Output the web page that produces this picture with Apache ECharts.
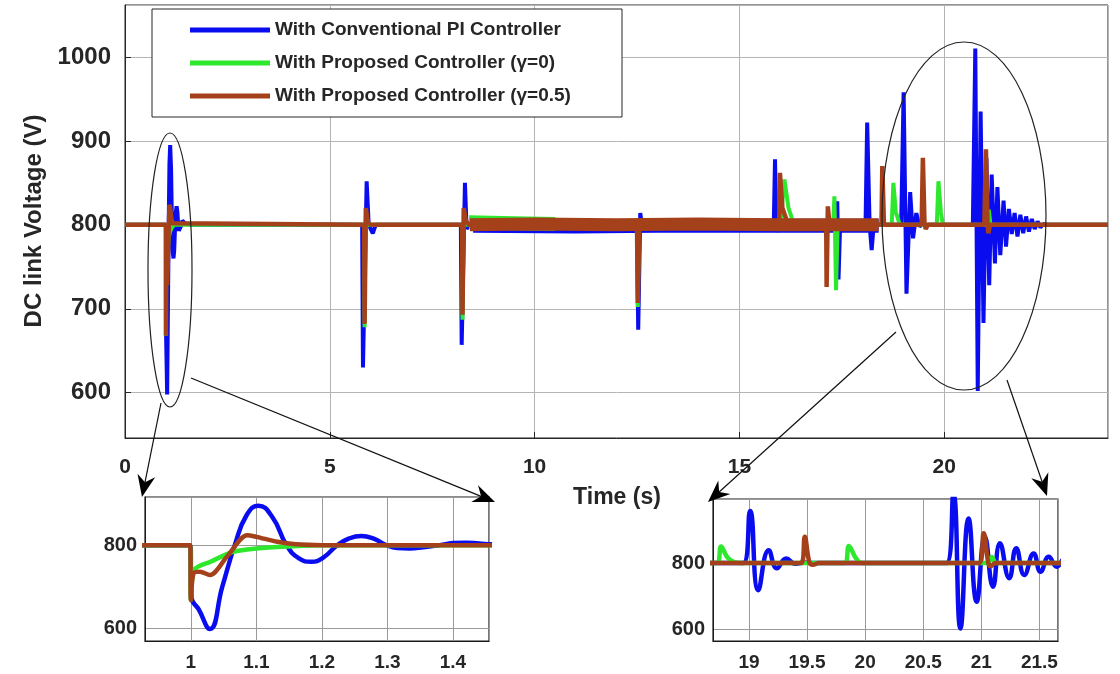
<!DOCTYPE html>
<html>
<head>
<meta charset="utf-8">
<script src="https://cdn.jsdelivr.net/npm/echarts@6/dist/echarts.min.js"></script>
<style>
html, body { margin: 0; padding: 0; background: #fff; }
#chart { width: 1120px; height: 674px; }
</style>
</head>
<body>
<div id="chart"></div>
<script>
// legend names
var seriesNames = ['With Conventional PI Controller', 'With Proposed Controller (\u03b3=0)', 'With Proposed Controller (\u03b3=0.5)'];
var colors = ['#0a0cf0', '#2ee82e', '#a4411b'];

// [time (s), DC link voltage (V)]
var piData = [
  [0, 800], [0.999, 800], [1.001, 674], [1.012, 645], [1.029, 598], [1.048, 700], [1.067, 800], [1.085, 872], [1.103, 895],
  [1.125, 866], [1.146, 800], [1.165, 768], [1.184, 760], [1.202, 770], [1.222, 798], [1.24, 815], [1.26, 822], [1.28, 815],
  [1.297, 801], [1.315, 793], [1.334, 792], [1.355, 795], [1.38, 800], [1.40, 805], [1.42, 806], [1.44, 804], [1.46, 802], [1.6, 800],
  [5.79, 800], [5.81, 630], [5.9, 852], [5.95, 800], [6.05, 790], [6.12, 800],
  [8.2, 800], [8.22, 657], [8.3, 850], [8.34, 795], [8.4, 800],
  [12.5, 800], [12.53, 675], [12.58, 814], [12.62, 800],
  [15.84, 800], [15.87, 878], [15.9, 800], [15.95, 792], [16.0, 800],
  [17.36, 800], [17.39, 828], [17.42, 735], [17.46, 800],
  [18.08, 800], [18.12, 922], [18.18, 800], [18.23, 770], [18.28, 800],
  [18.95, 800], [19.01, 958], [19.08, 718], [19.17, 839], [19.24, 784], [19.32, 814], [19.40, 798], [19.48, 802], [19.55, 800],
  [20.70, 800], [20.76, 1010], [20.82, 602], [20.89, 935], [20.96, 683], [21.03, 880], [21.10, 728], [21.16, 860],
  [21.24, 754], [21.30, 845], [21.37, 764], [21.45, 829], [21.51, 774], [21.58, 819], [21.65, 789], [21.72, 814],
  [21.79, 786], [21.86, 812], [21.93, 790], [22.0, 810], [22.07, 792], [22.14, 807], [22.21, 795], [22.28, 804],
  [22.35, 797], [22.42, 801], [22.5, 800], [24, 800]
];
var gamma0Data = [
  [0, 800], [0.999, 800], [1.0, 668], [1.005, 740], [1.03, 760], [1.065, 784], [1.1, 792], [1.15, 797], [1.2, 800],
  [5.84, 800], [5.85, 678], [5.87, 790], [5.9, 800],
  [8.23, 800], [8.24, 687], [8.26, 800],
  [12.5, 800], [12.52, 702], [12.55, 800],
  [16.0, 800], [16.1, 854], [16.2, 820], [16.3, 805], [16.4, 800],
  [17.29, 800], [17.32, 834], [17.36, 722], [17.4, 800],
  [18.72, 800], [18.76, 850], [18.82, 815], [18.92, 800],
  [19.82, 800], [19.86, 852], [19.92, 815], [19.97, 800],
  [21.05, 800], [21.09, 818], [21.13, 800], [24, 800]
];
var gamma05Data = [
  [0, 800], [0.999, 800], [1.0, 668], [1.004, 732], [1.014, 736], [1.029, 728], [1.055, 772], [1.086, 824], [1.1, 820],
  [1.132, 808], [1.16, 802], [1.2, 800],
  [5.84, 800], [5.85, 682], [5.88, 820], [5.93, 803], [6.0, 800],
  [8.23, 800], [8.24, 693], [8.27, 820], [8.32, 805], [8.4, 800],
  [12.5, 800], [12.52, 707], [12.56, 805], [12.6, 800],
  [15.97, 800], [15.99, 862], [16.05, 820], [16.15, 806], [16.3, 800],
  [17.12, 800], [17.13, 726], [17.16, 822], [17.2, 800],
  [18.47, 800], [18.49, 870], [18.53, 800],
  [19.45, 800], [19.48, 880], [19.52, 802], [19.55, 795], [19.6, 800],
  [20.98, 800], [21.02, 890], [21.06, 800], [21.08, 790], [21.12, 800], [24, 800]
];
// centre lines of the noisy stretch between the load steps
var piBand = [[8.5, 799], [11, 798], [13, 799], [18.4, 799]];
var gamma0Band = [[8.4, 803], [9.5, 802], [10.5, 801]];
var gamma05Band = [[8.42, 800], [10, 801], [12, 800], [14, 801], [16, 800], [18.4, 800]];

var FONT = 'Liberation Sans, Arial, sans-serif';
var TXT = '#262626';

function plain(v) { return String(v); }

function arrow(x1, y1, x2, y2) {
  var dx = x2 - x1, dy = y2 - y1, L = Math.sqrt(dx * dx + dy * dy);
  var ux = dx / L, uy = dy / L, px = -uy, py = ux;
  var len = 22, w = 9, notch = 15;
  var bx = x2 - ux * len, by = y2 - uy * len;
  return [
    { type: 'line', z: 100, shape: { x1: x1, y1: y1, x2: x2 - ux * notch, y2: y2 - uy * notch }, style: { stroke: '#111', lineWidth: 1.2 } },
    { type: 'polygon', z: 100, shape: { points: [[x2, y2], [bx + px * w, by + py * w], [x2 - ux * notch, y2 - uy * notch], [bx - px * w, by - py * w]] }, style: { fill: '#000' } }
  ];
}

function mainLine(name, data, color, width, z) {
  return { name: name, type: 'line', data: data, xAxisIndex: 0, yAxisIndex: 0, symbol: 'none', z: z,
    lineStyle: { color: color, width: width }, itemStyle: { color: color } };
}
function insetLine(name, data, color, idx, z, smooth) {
  return { name: name, type: 'line', data: data, xAxisIndex: idx, yAxisIndex: idx, symbol: 'none', z: z,
    smooth: smooth,
    lineStyle: { color: color, width: 4.5 }, itemStyle: { color: color } };
}

var chart = echarts.init(document.getElementById('chart'));
var option = {
  animation: false,
  backgroundColor: '#fff',
  textStyle: { fontFamily: FONT },
  legend: {
    data: seriesNames,
    orient: 'vertical',
    left: 190, top: 20, padding: 0,
    itemWidth: 80, itemHeight: 5, itemGap: 13,
    icon: 'rect', z: 8,
    textStyle: { fontSize: 19, fontWeight: 'bold', color: TXT, fontFamily: FONT, lineHeight: 20 }
  },
  grid: [
    { left: 125, top: 5, right: 12, bottom: 236, show: true, borderColor: '#262626', borderWidth: 1, backgroundColor: '#fff' },
    { left: 145, top: 497, width: 344, height: 144, show: true, borderColor: '#1a1a1a', borderWidth: 1.2, backgroundColor: '#fff' },
    { left: 713, top: 499, width: 345, height: 142, show: true, borderColor: '#1a1a1a', borderWidth: 1.2, backgroundColor: '#fff' }
  ],
  xAxis: [
    { type: 'value', gridIndex: 0, min: 0, max: 24, interval: 5,
      axisLine: { onZero: false, lineStyle: { color: '#262626' } },
      axisTick: { inside: true, length: 6, lineStyle: { color: '#262626' } },
      axisLabel: { fontSize: 21, fontWeight: 'bold', color: TXT, margin: 19, showMaxLabel: false, fontFamily: FONT, formatter: plain },
      splitLine: { show: true, lineStyle: { color: '#b4b4b4' } } },
    { type: 'value', gridIndex: 1, min: 0.93, max: 1.455,
      axisLine: { onZero: false, lineStyle: { color: '#1a1a1a' } },
      axisTick: { show: false },
      axisLabel: { fontSize: 19, fontWeight: 'bold', color: TXT, margin: 12, showMinLabel: false, showMaxLabel: false, fontFamily: FONT, formatter: plain },
      splitLine: { show: true, lineStyle: { color: '#9a9a9a' } } },
    { type: 'value', gridIndex: 2, min: 18.69, max: 21.66,
      axisLine: { onZero: false, lineStyle: { color: '#1a1a1a' } },
      axisTick: { show: false },
      axisLabel: { fontSize: 19, fontWeight: 'bold', color: TXT, margin: 12, showMinLabel: false, showMaxLabel: false, fontFamily: FONT, formatter: plain },
      splitLine: { show: true, lineStyle: { color: '#9a9a9a' } } }
  ],
  yAxis: [
    { type: 'value', gridIndex: 0, min: 546, max: 1062, splitNumber: 5,
      axisLine: { show: true, onZero: false, lineStyle: { color: '#262626' } },
      axisTick: { inside: true, length: 6, lineStyle: { color: '#262626' } },
      axisLabel: { fontSize: 24, fontWeight: 'bold', color: TXT, margin: 14, showMinLabel: false, showMaxLabel: false, fontFamily: FONT, formatter: plain },
      splitLine: { show: true, lineStyle: { color: '#b4b4b4' } } },
    { type: 'value', gridIndex: 1, min: 569, max: 916, splitNumber: 2,
      axisLine: { show: true, onZero: false, lineStyle: { color: '#1a1a1a' } },
      axisTick: { show: false },
      axisLabel: { fontSize: 20, fontWeight: 'bold', color: TXT, margin: 8, showMinLabel: false, showMaxLabel: false, fontFamily: FONT, formatter: plain },
      splitLine: { show: true, lineStyle: { color: '#9a9a9a' } } },
    { type: 'value', gridIndex: 2, min: 564, max: 994, splitNumber: 2,
      axisLine: { show: true, onZero: false, lineStyle: { color: '#1a1a1a' } },
      axisTick: { show: false },
      axisLabel: { fontSize: 20, fontWeight: 'bold', color: TXT, margin: 8, showMinLabel: false, showMaxLabel: false, fontFamily: FONT, formatter: plain },
      splitLine: { show: true, lineStyle: { color: '#9a9a9a' } } }
  ],
  series: [
    mainLine(seriesNames[0], piData, colors[0], 4, 2),
    mainLine(seriesNames[0], piBand, colors[0], 14, 2),
    mainLine(seriesNames[1], gamma0Data, colors[1], 4, 3),
    mainLine(seriesNames[1], gamma0Band, colors[1], 14, 3),
    mainLine(seriesNames[2], gamma05Data, colors[2], 4.5, 4),
    mainLine(seriesNames[2], gamma05Band, colors[2], 13, 4),
    insetLine(seriesNames[0], piData, colors[0], 1, 2, 0.5),
    insetLine(seriesNames[1], gamma0Data, colors[1], 1, 3, 0.3),
    insetLine(seriesNames[2], gamma05Data, colors[2], 1, 4, 0.3),
    insetLine(seriesNames[0], piData, colors[0], 2, 2, 0.5),
    insetLine(seriesNames[1], gamma0Data, colors[1], 2, 3, 0.4),
    insetLine(seriesNames[2], gamma05Data, colors[2], 2, 4, 0.4)
  ],
  graphic: [
    { type: 'rect', z: 6, shape: { x: 152, y: 9, width: 470, height: 108 }, style: { fill: '#fff', stroke: '#262626', lineWidth: 1 } },
    { type: 'text', z: 10, x: 34, y: 221, rotation: Math.PI / 2,
      style: { text: 'DC link Voltage (V)', fontSize: 24, fontWeight: 'bold', fill: TXT, fontFamily: FONT, align: 'center', verticalAlign: 'middle' } },
    { type: 'text', z: 10, x: 617, y: 498,
      style: { text: 'Time (s)', fontSize: 23, fontWeight: 'bold', fill: TXT, fontFamily: FONT, align: 'center', verticalAlign: 'middle' } },
    { type: 'ellipse', z: 100, shape: { cx: 170, cy: 270, rx: 22, ry: 137 }, style: { fill: 'none', stroke: '#222', lineWidth: 1.2 } },
    { type: 'ellipse', z: 100, shape: { cx: 964, cy: 216, rx: 82, ry: 174 }, style: { fill: 'none', stroke: '#222', lineWidth: 1.2 } }
  ].concat(arrow(161, 403, 142, 497))
   .concat(arrow(191, 378, 495, 502))
   .concat(arrow(896, 332, 708, 502))
   .concat(arrow(1007, 380, 1047, 496))
};
chart.setOption(option);
</script>
</body>
</html>
